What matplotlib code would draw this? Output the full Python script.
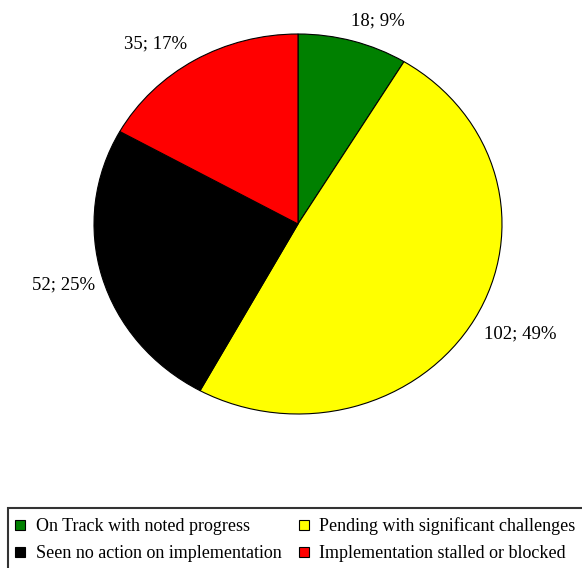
import numpy as np
import matplotlib.pyplot as plt
from matplotlib.lines import Line2D
from matplotlib.patches import Rectangle

# données
categories = ["On Track with noted progress", "Pending with significant challenges",
              "Seen no action on implementation", "Implementation stalled or blocked"]
counts = [18, 102, 52, 35]
percents = [9, 49, 25, 17]
colors = ["#008000", "#ffff00", "#000000", "#ff0000"]

# position des étiquettes (unités du rayon)
label_xy = [(0.39, 1.07), (1.09, -0.58), (-1.15, -0.32), (-0.70, 0.95)]

plt.rcParams['font.family'] = ['Liberation Serif', 'DejaVu Serif']

W, H = 582, 568
fig = plt.figure(figsize=(W/100, H/100), dpi=100)
ax = fig.add_axes([94/W, 1 - 414/H, 408/W, 380/H])
ax.pie(counts, colors=colors, startangle=90, counterclock=False,
       wedgeprops=dict(edgecolor='black', linewidth=0.8), frame=False)
ax.set_aspect('auto')
ax.set_xlim(-1, 1)
ax.set_ylim(-1, 1)

for (x, y), n, p in zip(label_xy, counts, percents):
    ax.text(x, y, f"{n}; {p}%", ha='center', va='center', fontsize=13.5,
            clip_on=False)

# légende (le cadre déborde de l'image à droite et en bas)
fig.patches.append(Rectangle((8/W, -0.1), 1.0, 0.1 + 1 - 508/H,
                             transform=fig.transFigure, fill=False,
                             edgecolor='#333333', linewidth=1.5))

handles = [Line2D([], [], marker='s', ls='none', markersize=7.5,
                  markerfacecolor=c, markeredgecolor='black', markeredgewidth=0.8)
           for c in colors]
order = [0, 2, 1, 3]
leg = fig.legend([handles[i] for i in order], [categories[i] for i in order],
                 loc='upper left', bbox_to_anchor=(13/W, 1 - 517/H), ncol=2,
                 fontsize=13, frameon=False, handlelength=0.8,
                 handletextpad=0.45, columnspacing=0.85, borderpad=0.0,
                 labelspacing=0.57, borderaxespad=0)

fig.savefig("out.png", dpi=100)
